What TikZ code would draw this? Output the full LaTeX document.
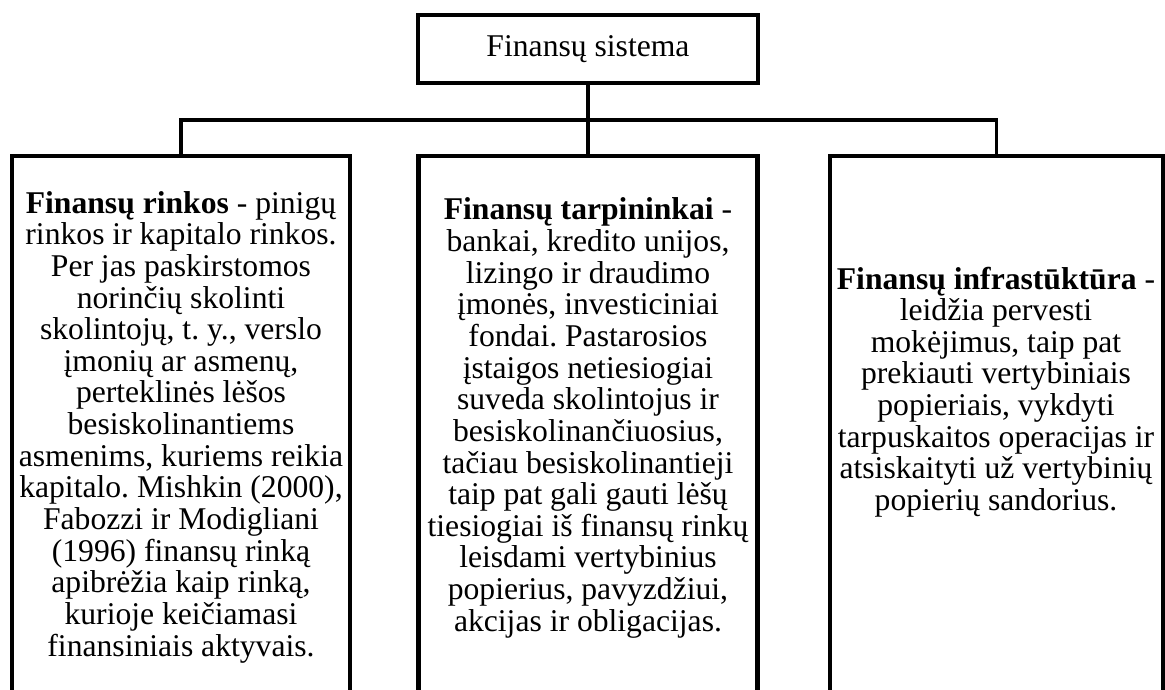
\documentclass[tikz,border=0pt]{standalone}
\usepackage{fontspec}
\setmainfont{Liberation Serif}
\usetikzlibrary{positioning}
\frenchspacing

\begin{document}
\begin{tikzpicture}[
    x=0.025cm, y=-0.025cm,
    topbox/.style={draw, line width=3pt, minimum width=8.5cm, minimum height=1.7cm, inner sep=0pt, font=\fontsize{22.5}{22.5}\selectfont},
    panel/.style={draw, line width=3pt, anchor=north, minimum height=13.65cm, inner sep=0pt},
    txt/.style={align=center, inner sep=0pt, font=\fontsize{22.5}{22.5}\selectfont},
    link/.style={line width=2.6pt}
]
\useasboundingbox (0,0) rectangle (1165,690);
\clip (0,0) rectangle (1165,690);

% Top level
\node[topbox] (sys) at (588,49) {Finansų sistema};

% Three parts (boxes run past the bottom edge)
\node[panel, minimum width=8.45cm] (rinkos) at (181,154) {};
\node[panel, minimum width=8.475cm] (tarp) at (588,154) {};
\node[panel, minimum width=8.325cm] (infra) at (996.5,154) {};

% Connectors
\coordinate (bus) at (588,120);
\draw[link] (sys.south) -- (tarp.north);
\draw[link] (rinkos.north) |- (bus) -| (infra.north);

% Texts
\node[txt] (rinkosTxt) at (181,427) {\textbf{Finansų rinkos} - pinigų\\
rinkos ir kapitalo rinkos.\\
Per jas paskirstomos\\
norinčių skolinti\\
skolintojų, t. y., verslo\\
įmonių ar asmenų,\\
perteklinės lėšos\\
besiskolinantiems\\
asmenims, kuriems reikia\\
kapitalo. Mishkin (2000),\\
Fabozzi ir Modigliani\\
(1996) finansų rinką\\
apibrėžia kaip rinką,\\
kurioje keičiamasi\\
finansiniais aktyvais.};

\node[txt] (tarpTxt) at (588,418) {\textbf{Finansų tarpininkai} -\\
bankai, kredito unijos,\\
lizingo ir draudimo\\
įmonės, investiciniai\\
fondai. Pastarosios\\
įstaigos netiesiogiai\\
suveda skolintojus ir\\
besiskolinančiuosius,\\
tačiau besiskolinantieji\\
taip pat gali gauti lėšų\\
tiesiogiai iš finansų rinkų\\
leisdami vertybinius\\
popierius, pavyzdžiui,\\
akcijas ir obligacijas.};

\node[txt] (infraTxt) at (996,392) {\textbf{Finansų infrastūktūra} -\\
leidžia pervesti\\
mokėjimus, taip pat\\
prekiauti vertybiniais\\
popieriais, vykdyti\\
tarpuskaitos operacijas ir\\
atsiskaityti už vertybinių\\
popierių sandorius.};

\end{tikzpicture}
\end{document}
